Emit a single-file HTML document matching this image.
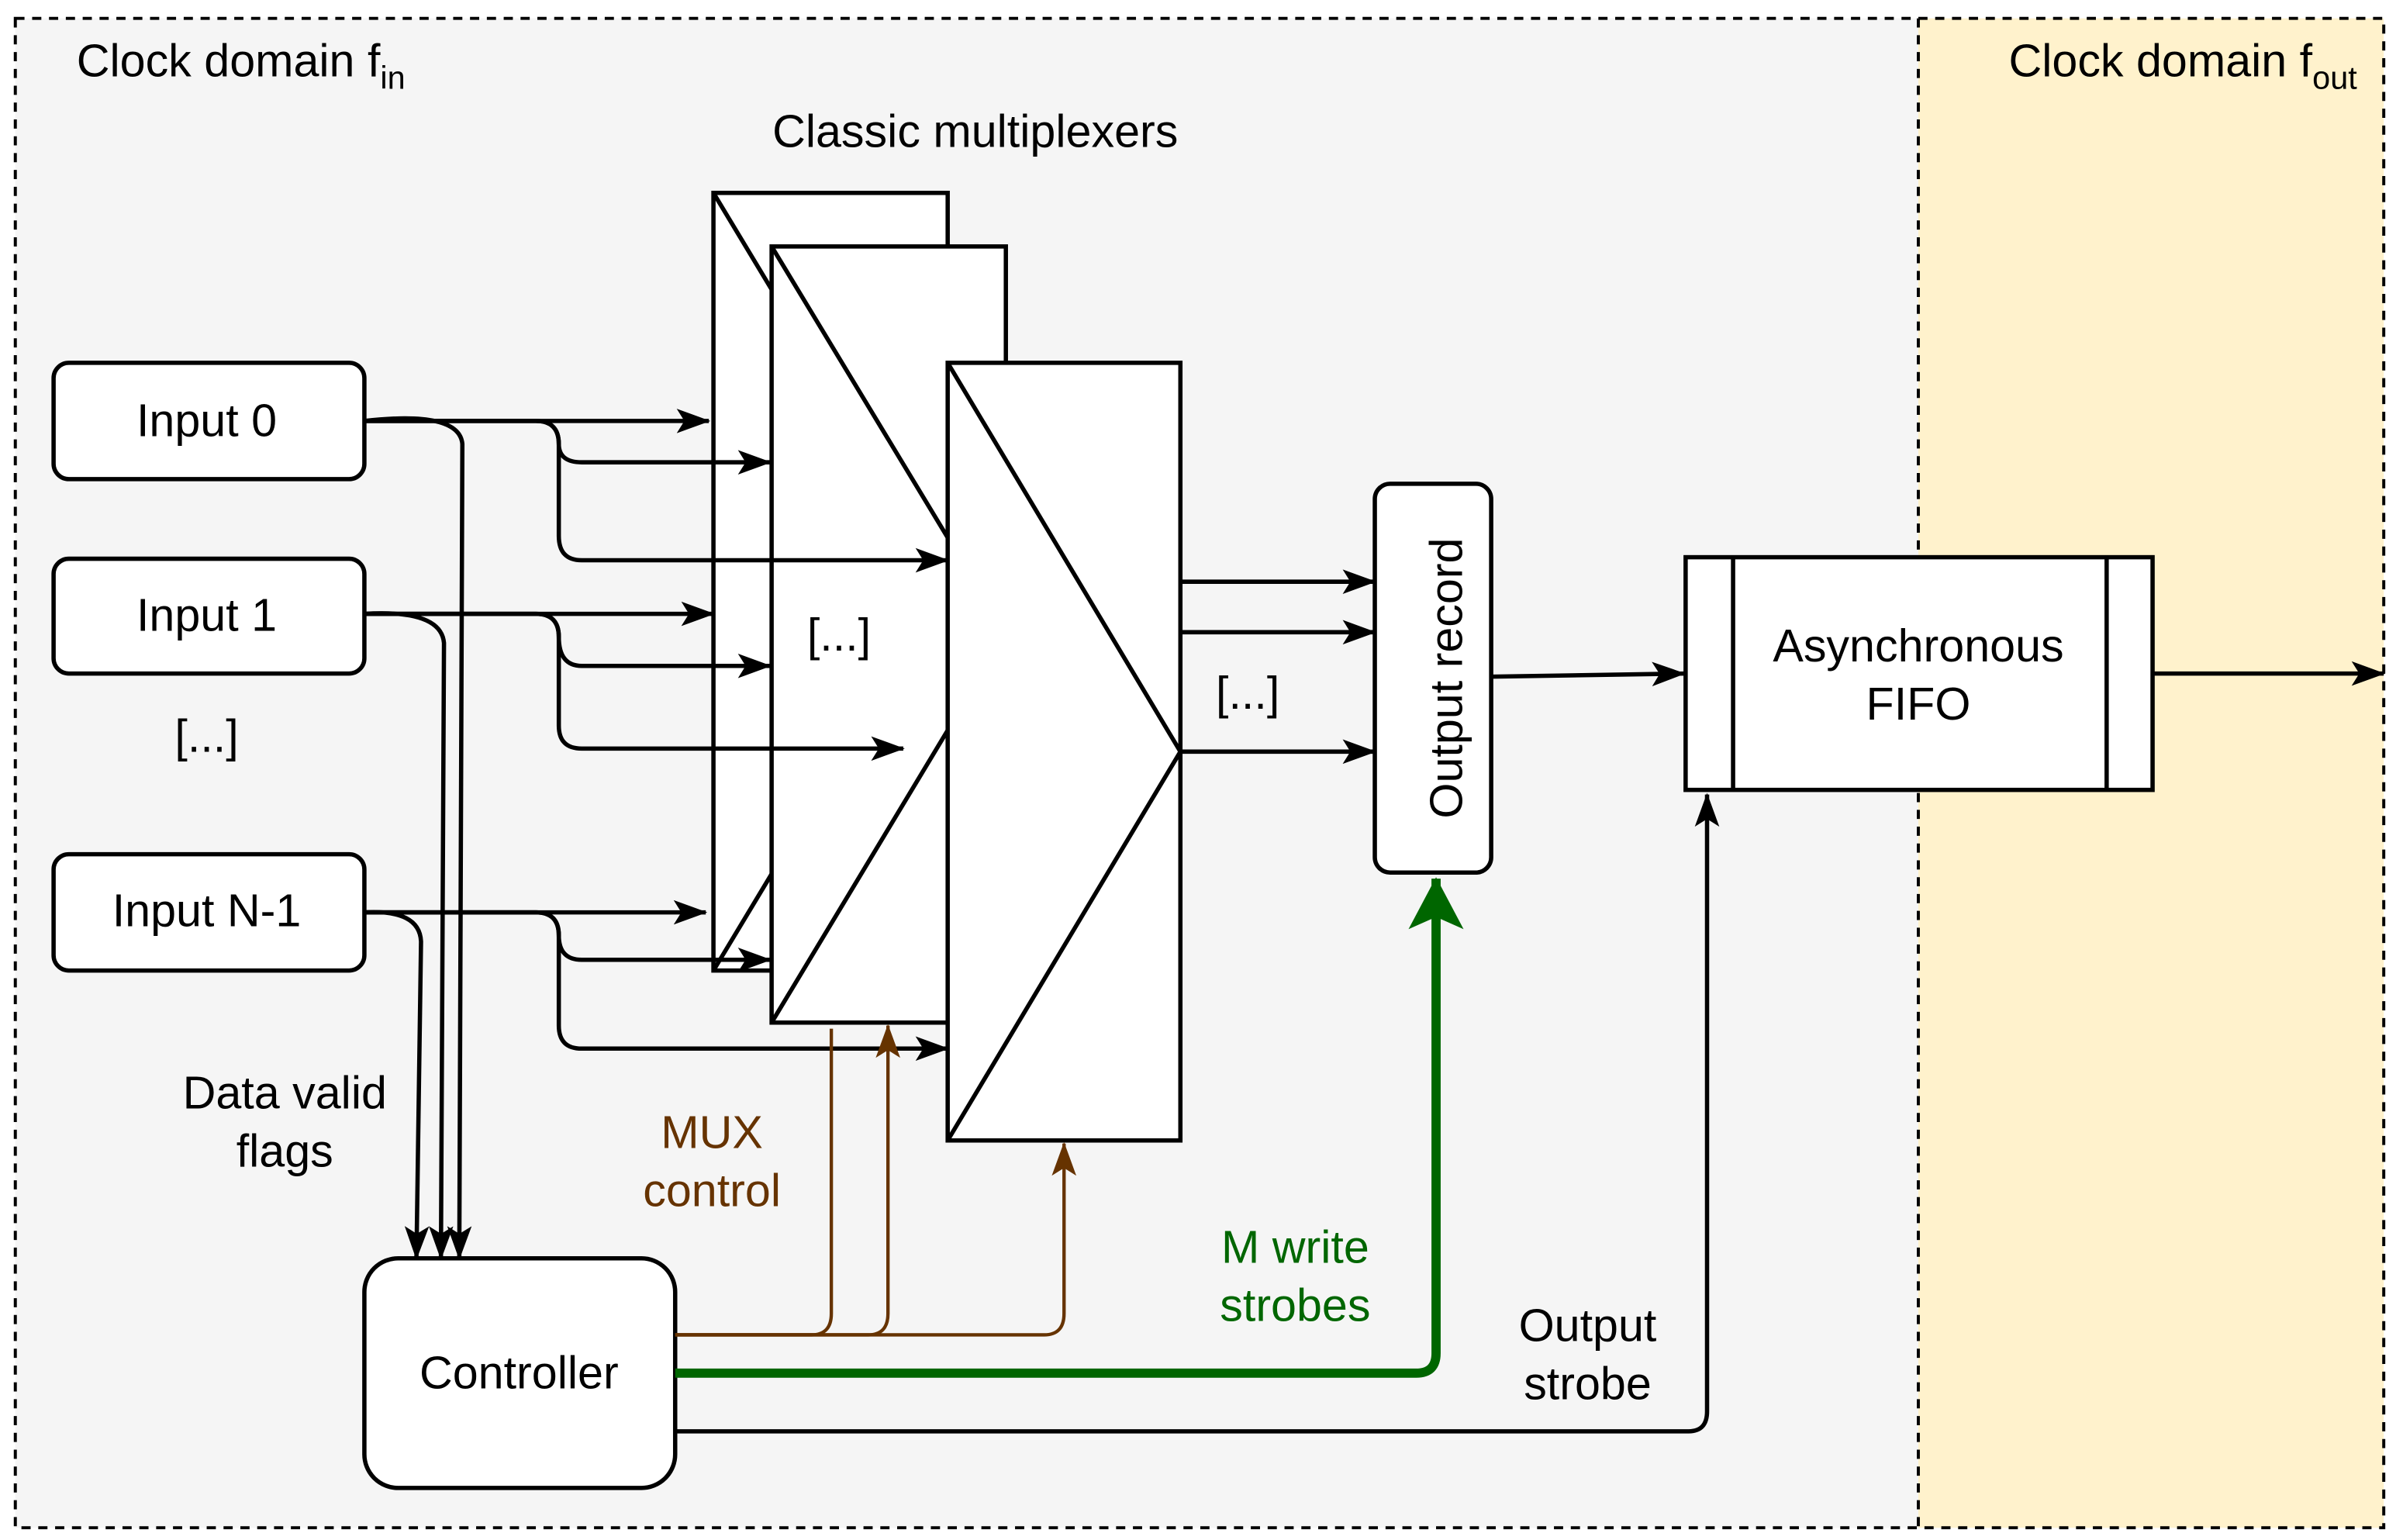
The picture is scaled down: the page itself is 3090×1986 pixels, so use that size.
<!DOCTYPE html>
<html><head><meta charset="utf-8"><style>
html,body{margin:0;padding:0;background:#fff}
svg{display:block}
text{font-family:"Liberation Sans",Arial,sans-serif;font-size:30px}
</style></head><body>
<svg width="3090" height="1986" viewBox="0 0 1565 1006" preserveAspectRatio="none" xmlns="http://www.w3.org/2000/svg">
<defs>
<marker id="a" viewBox="0 0 22 16" refX="21" refY="8" markerWidth="22" markerHeight="16" markerUnits="userSpaceOnUse" orient="auto"><path d="M0,0 L22,8 L0,16 L5,8 Z" fill="#000"/></marker>
<marker id="ab" viewBox="0 0 16 22" refX="8" refY="1" markerWidth="16" markerHeight="22" markerUnits="userSpaceOnUse" orient="0"><path d="M8,0 L16,22 L8,17 L0,22 Z" fill="#663300"/></marker>
<marker id="ag" viewBox="0 0 36 34" refX="18" refY="1" markerWidth="36" markerHeight="34" markerUnits="userSpaceOnUse" orient="0"><path d="M18,0 L36,34 L18,26 L0,34 Z" fill="#006600"/></marker>
</defs>
<rect x="10" y="12" width="1243" height="986" fill="#f5f5f5"/>
<rect x="1253" y="12" width="304" height="986" fill="#fff2cc"/>
<rect x="10" y="12" width="1547" height="986" fill="none" stroke="#000" stroke-width="2" stroke-dasharray="6,5"/>
<line x1="1253" y1="12" x2="1253" y2="998" stroke="#000" stroke-width="2" stroke-dasharray="6,5"/>
<text x="50" y="50">Clock domain f<tspan font-size="21" dy="8">in</tspan></text>
<text x="1312" y="50">Clock domain f<tspan font-size="21" dy="8">out</tspan></text>
<text x="637" y="96" text-anchor="middle">Classic multiplexers</text>

<g stroke="#000" stroke-width="2.8" fill="#fff">
<rect x="466" y="126" width="153" height="508"/>
<polyline points="466,126 619,380 466,634" fill="none"/>
<rect x="504" y="161" width="153" height="507"/>
<polyline points="504,161 657,414 504,668" fill="none"/>
<rect x="619" y="237" width="152" height="508"/>
<polyline points="619,237 771,491 619,745" fill="none"/>
</g>
<text x="548" y="425" text-anchor="middle">[...]</text>

<g stroke="#000" stroke-width="2.8" fill="#fff">
<rect x="35" y="237" width="203" height="76" rx="10"/>
<rect x="35" y="365" width="203" height="75" rx="10"/>
<rect x="35" y="558" width="203" height="76" rx="10"/>
<rect x="238" y="822" width="203" height="150" rx="22"/>
<rect x="898" y="316" width="76" height="254" rx="10"/>
<rect x="1101" y="364" width="305" height="152"/>
<line x1="1132" y1="364" x2="1132" y2="516"/>
<line x1="1376" y1="364" x2="1376" y2="516"/>
</g>
<text x="135" y="285" text-anchor="middle">Input 0</text>
<text x="135" y="412" text-anchor="middle">Input 1</text>
<text x="135" y="491" text-anchor="middle">[...]</text>
<text x="135" y="605" text-anchor="middle">Input N-1</text>
<text x="339" y="907" text-anchor="middle">Controller</text>
<text x="945" y="443" text-anchor="middle" transform="rotate(-90 945 443)" dy="10">Output record</text>
<text x="1253" y="432" text-anchor="middle">Asynchronous</text>
<text x="1253" y="470" text-anchor="middle">FIFO</text>
<text x="186" y="724" text-anchor="middle">Data valid</text>
<text x="186" y="762" text-anchor="middle">flags</text>
<text x="465" y="750" text-anchor="middle" fill="#663300">MUX</text>
<text x="465" y="788" text-anchor="middle" fill="#663300">control</text>
<text x="846" y="825" text-anchor="middle" fill="#006600">M write</text>
<text x="846" y="863" text-anchor="middle" fill="#006600">strobes</text>
<text x="1037" y="876" text-anchor="middle">Output</text>
<text x="1037" y="914" text-anchor="middle">strobe</text>
<text x="815" y="463" text-anchor="middle">[...]</text>

<g stroke="#000" stroke-width="2.8" fill="none">
<path d="M238,275 H463" marker-end="url(#a)"/>
<path d="M238,275 H350 Q365,275 365,290 Q365,302 380,302 H503" marker-end="url(#a)"/>
<path d="M238,275 H350 Q365,275 365,290 V350 Q365,366 380,366 H619" marker-end="url(#a)"/>
<path d="M238,401 H466" marker-end="url(#a)"/>
<path d="M238,401 H350 Q365,401 365,416 Q365,435 380,435 H503" marker-end="url(#a)"/>
<path d="M238,401 H350 Q365,401 365,416 V474 Q365,489 380,489 H590" marker-end="url(#a)"/>
<path d="M238,596 H461" marker-end="url(#a)"/>
<path d="M238,596 H350 Q365,596 365,611 Q365,627 380,627 H503" marker-end="url(#a)"/>
<path d="M238,596 H350 Q365,596 365,611 V670 Q365,685 380,685 H619" marker-end="url(#a)"/>
<path d="M238,275 Q300,268 302,290 L300,822" marker-end="url(#a)"/>
<path d="M238,401 Q288,398 290,420 L288,822" marker-end="url(#a)"/>
<path d="M238,596 Q274,594 275,615 L272,822" marker-end="url(#a)"/>
<path d="M771,380 H898" marker-end="url(#a)"/>
<path d="M771,413 H898" marker-end="url(#a)"/>
<path d="M771,491 H898" marker-end="url(#a)"/>
<path d="M974,442 L1100,440" marker-end="url(#a)"/>
<path d="M1406,440 H1557" marker-end="url(#a)"/>
<path d="M441,935 H1103 Q1115,935 1115,922 V519" marker-end="url(#a)"/>
</g>
<g stroke="#663300" stroke-width="2.2" fill="none">
<path d="M441,872 H530 Q543,872 543,858 V672"/>
<path d="M441,872 H567 Q580,872 580,858 V670" marker-end="url(#ab)"/>
<path d="M441,872 H682 Q695,872 695,858 V747" marker-end="url(#ab)"/>
</g>
<path d="M441,897 H925 Q938,897 938,884 V574" stroke="#006600" stroke-width="6" fill="none" marker-end="url(#ag)"/>
</svg>
</body></html>
